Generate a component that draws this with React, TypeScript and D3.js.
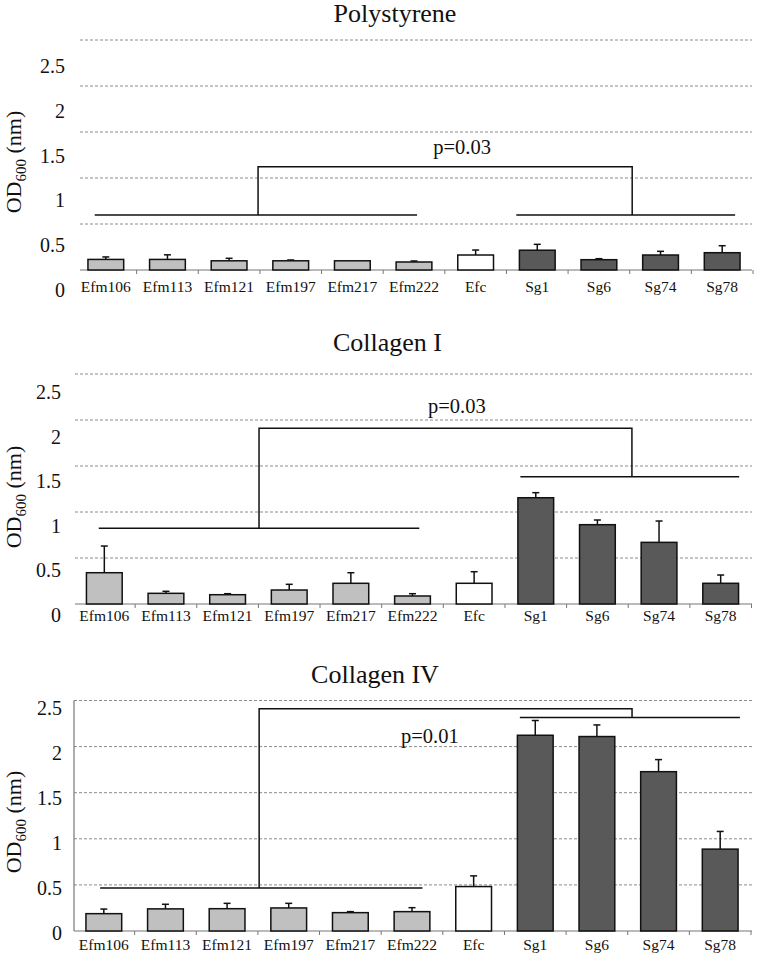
import React from "react";
import * as d3 from "d3";

const categories = ["Efm106", "Efm113", "Efm121", "Efm197", "Efm217", "Efm222", "Efc", "Sg1", "Sg6", "Sg74", "Sg78"];
const groups = ["Efm", "Efm", "Efm", "Efm", "Efm", "Efm", "Efc", "Sg", "Sg", "Sg", "Sg"];
const yTicks = [0, 0.5, 1, 1.5, 2, 2.5];
const gridValues = [0.5, 1, 1.5, 2, 2.5];

const polyMean = [0.115, 0.115, 0.1, 0.1, 0.1, 0.087, 0.163, 0.215, 0.112, 0.163, 0.188];
const polyErr = [0.027, 0.05, 0.027, 0.009, 0.0, 0.011, 0.054, 0.064, 0.011, 0.04, 0.076];

const col1Mean = [0.34, 0.116, 0.101, 0.152, 0.225, 0.087, 0.225, 1.155, 0.862, 0.67, 0.225];
const col1Err = [0.29, 0.022, 0.011, 0.062, 0.115, 0.025, 0.126, 0.055, 0.051, 0.232, 0.09];

const col4Mean = [0.188, 0.24, 0.242, 0.25, 0.199, 0.21, 0.482, 2.123, 2.109, 1.728, 0.888];
const col4Err = [0.05, 0.05, 0.058, 0.05, 0.011, 0.043, 0.116, 0.16, 0.126, 0.131, 0.192];

const titles = ["Polystyrene", "Collagen I", "Collagen IV"];
const pLabels = ["p=0.03", "p=0.03", "p=0.01"];
// bracket annotations: [leftStart, leftEnd, leftDrop, leftLevel, rightStart, rightEnd, rightDrop, rightLevel, top, textX, textY]
const brackets = [
  [-0.18, 5.05, 2.47, 0.598, 6.66, 10.21, 8.54, 0.598, 1.123, 5.78, 1.337],
  [-0.09, 5.11, 2.51, 0.823, 6.75, 10.3, 8.56, 1.384, 1.91, 5.72, 2.15],
  [-0.06, 5.17, 2.52, 0.467, 6.75, 10.32, 8.57, 2.315, 2.41, 5.29, 2.11],
];

const fills: Record<string, string> = { Efm: "#c0c0c0", Efc: "#ffffff", Sg: "#595959" };
const FONT = "Liberation Serif, Times New Roman, serif";

type Layout = {
  top: number; base: number; gridX0: number; xr: [number, number];
  labelRange: [number, number]; labelX: number; titleX: number; titleY: number;
  catY: number; axisY: number; leftAxis: boolean;
};

const layouts: Layout[] = [
  { top: 40, base: 270, gridX0: 80, xr: [75, 753], labelRange: [290, 66], labelX: 65, titleX: 395, titleY: 22, catY: 292, axisY: 162, leftAxis: false },
  { top: 374, base: 604, gridX0: 75, xr: [73.5, 751.5], labelRange: [615, 392], labelX: 61, titleX: 387.5, titleY: 351, catY: 621, axisY: 497, leftAxis: false },
  { top: 700.5, base: 931, gridX0: 74, xr: [73, 751], labelRange: [933, 708], labelX: 62, titleX: 375, titleY: 683, catY: 950, axisY: 822, leftAxis: true },
];

function Panel({ L, mean, err, title, br, pLabel }: { L: Layout; mean: number[]; err: number[]; title: string; br: number[]; pLabel: string }) {
  const y = d3.scaleLinear().domain([0, 2.5]).range([L.base, L.top]);
  const yLab = d3.scaleLinear().domain([0, 2.5]).range(L.labelRange);
  const x = d3.scaleBand<string>().domain(categories).range(L.xr).paddingInner(0.42).paddingOuter(0.21);
  const c0 = (x(categories[0]) as number) + x.bandwidth() / 2;
  const c10 = (x(categories[10]) as number) + x.bandwidth() / 2;
  const xi = d3.scaleLinear().domain([0, 10]).range([c0, c10]);
  const step = x.step();
  const xEnd = 752;
  const [ls, le, ld, ll, rs, re, rd, rl, tp, tx, ty] = br;
  const bracketPath =
    `M${xi(ls)},${y(ll)}H${xi(le)}` +
    `M${xi(rs)},${y(rl)}H${xi(re)}` +
    `M${xi(ld)},${y(ll)}V${y(tp)}H${xi(rd)}V${y(rl)}`;
  return (
    <g>
      <text x={L.titleX} y={L.titleY} textAnchor="middle" fontSize={26} fill="#111">{title}</text>
      {gridValues.map((v) => (
        <line key={v} x1={L.gridX0} x2={xEnd} y1={y(v)} y2={y(v)} stroke="#8a8a8a" strokeWidth={1} strokeDasharray="3,2" />
      ))}
      {yTicks.map((v) => (
        <text key={v} x={L.labelX} y={yLab(v)} textAnchor="end" dominantBaseline="central" fontSize={20} fill="#111">{String(v)}</text>
      ))}
      <text transform={`translate(21,${L.axisY}) rotate(-90)`} textAnchor="middle" fontSize={22} fill="#111">
        OD<tspan fontSize={15} dy={5}>600</tspan><tspan dy={-5}> (nm)</tspan>
      </text>
      {L.leftAxis && <line x1={L.gridX0} x2={L.gridX0} y1={y(2.5)} y2={L.base} stroke="#777" strokeWidth={1.2} />}
      <line x1={L.gridX0} x2={xEnd} y1={L.base} y2={L.base} stroke="#777" strokeWidth={1.2} />
      {d3.range(1, categories.length + 1).map((i) => (
        <line key={i} x1={L.xr[0] + i * step} x2={L.xr[0] + i * step} y1={L.base} y2={L.base + 4} stroke="#777" strokeWidth={1} />
      ))}
      {categories.map((c, i) => {
        const bx = x(c) as number;
        const cx = bx + x.bandwidth() / 2;
        return (
          <g key={c}>
            {err[i] > 0 && (
              <g stroke="#111" strokeWidth={1.5}>
                <line x1={cx} x2={cx} y1={y(mean[i])} y2={y(mean[i] + err[i])} />
                <line x1={cx - 3.5} x2={cx + 3.5} y1={y(mean[i] + err[i])} y2={y(mean[i] + err[i])} />
              </g>
            )}
            <rect x={bx} y={y(mean[i])} width={x.bandwidth()} height={L.base - y(mean[i])} fill={fills[groups[i]]} stroke="#111" strokeWidth={1.5} />
            <text x={cx} y={L.catY} textAnchor="middle" fontSize={15.5} fill="#111">{c}</text>
          </g>
        );
      })}
      <path d={bracketPath} fill="none" stroke="#111" strokeWidth={1.5} />
      <text x={xi(tx)} y={y(ty)} textAnchor="middle" dominantBaseline="central" fontSize={20.5} fill="#111">{pLabel}</text>
    </g>
  );
}

export default function App() {
  const means = [polyMean, col1Mean, col4Mean];
  const errs = [polyErr, col1Err, col4Err];
  return (
    <svg width={757} height={957} fontFamily={FONT} style={{ position: "absolute", left: 0, top: 0, background: "#fff", fontFamily: FONT }}>
      <rect width={757} height={957} fill="#fff" />
      {layouts.map((L, k) => (
        <Panel key={k} L={L} mean={means[k]} err={errs[k]} title={titles[k]} br={brackets[k]} pLabel={pLabels[k]} />
      ))}
    </svg>
  );
}
